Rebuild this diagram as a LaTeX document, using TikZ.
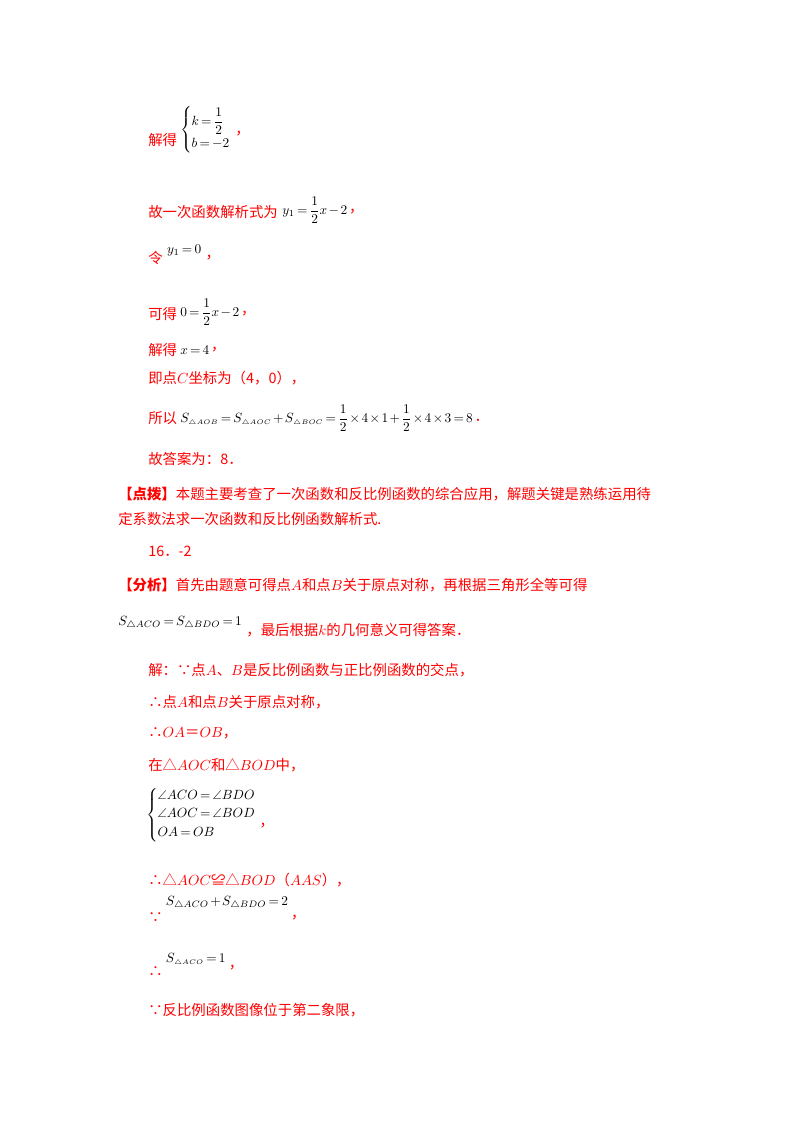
\documentclass[tikz,border=0pt]{standalone}
\usepackage{amsmath,amssymb}
\usepackage{fontspec}
\setmainfont{Noto Sans CJK SC}
\usetikzlibrary{positioning}
\AtBeginDocument{\medmuskip=2mu plus 1mu\thickmuskip=3mu plus 1mu}
\begin{document}
\begin{tikzpicture}[x=0.75pt,y=-0.75pt,
  t/.style={anchor=west,inner sep=0pt,text=red,font=\fontsize{10.8}{13}\selectfont},
  m/.style={anchor=west,inner sep=0pt,text=black,font=\fontsize{9.6}{11}\selectfont}]
\useasboundingbox (0,0) rectangle (800,1132);
\node[t] (a1) at (148,140) {解得};
\node[m,right=2pt of a1.east,yshift=7.5pt] (a2) {$\left\{\begin{array}{@{}l@{}} k=\dfrac12\\[6pt] b=-2\end{array}\right.$};
\node[t,right=3pt of a2.east,yshift=-3pt] (a3) {，};
\node[t] (b1) at (148,212) {故一次函数解析式为};
\node[m,right=3pt of b1.east,yshift=1.5pt] (b2) {$y_1=\dfrac12x-2$};
\node[t,right=1pt of b2.east,yshift=-1.5pt] (b3) {，};
\node[t] (c1) at (148,258) {令};
\node[m,right=3pt of c1.east,yshift=6pt] (c2) {$y_1=0$};
\node[t,right=3pt of c2.east,yshift=-6pt] (c3) {，};
\node[t] (d1) at (148,314) {可得};
\node[m,right=2pt of d1.east,yshift=1.5pt] (d2) {$0=\dfrac12x-2$};
\node[t,right=1pt of d2.east,yshift=-1.5pt] (d3) {，};
\node[t] (e1) at (148,350) {解得};
\node[m,right=2pt of e1.east] (e2) {$x=4$};
\node[t,right=1pt of e2.east] (e3) {，};
\node[t] (f1) at (148,378) {即点$C$坐标为（4，0），};
\node[t] (g1) at (148,418) {所以};
\node[m,right=2pt of g1.east] (g2) {$S_{\scriptscriptstyle\triangle AOB}=S_{\scriptscriptstyle\triangle AOC}+S_{\scriptscriptstyle\triangle BOC}=\dfrac12\times4\times1+\dfrac12\times4\times3=8$};
\node[t,right=1pt of g2.east,yshift=-2pt] (g3) {．};
\node[t] (h1) at (148,459) {故答案为：8．};
\node[t] (i1) at (118,494) {\textbf{【点拨】}本题主要考查了一次函数和反比例函数的综合应用，解题关键是熟练运用待};
\node[t] (i2) at (118,519) {定系数法求一次函数和反比例函数解析式.};
\node[t] (j1) at (148,551) {16．-2};
\node[t] (k1) at (118,585) {\textbf{【分析】}首先由题意可得点$A$和点$B$关于原点对称，再根据三角形全等可得};
\node[m] (k2) at (118,623) {$S_{\triangle ACO}=S_{\triangle BDO}=1$};
\node[t,right=3pt of k2.east,yshift=-5pt] (k3) {，最后根据$k$的几何意义可得答案．};
\node[t] (l1) at (148,670) {解：∵点$A$、$B$是反比例函数与正比例函数的交点，};
\node[t] (l2) at (148,702) {∴点$A$和点$B$关于原点对称，};
\node[t] (l3) at (148,733) {∴$OA$＝$OB$，};
\node[t] (l4) at (148,765) {在△$AOC$和△$BOD$中，};
\node[m] (n1) at (146,815) {$\left\{\begin{array}{@{}l@{}}\angle ACO=\angle BDO\\[3pt] \angle AOC=\angle BOD\\[3pt] OA=OB\end{array}\right.$};
\node[t,right=2pt of n1.east,yshift=-8pt] (n2) {，};
\node[t] (o1) at (148,880) {∴△$AOC$≌△$BOD$（$AAS$），};
\node[t] (p1) at (148,918) {∵};
\node[m,right=2pt of p1.east,yshift=11pt] (p2) {$S_{\triangle ACO}+S_{\triangle BDO}=2$};
\node[t,right=2pt of p2.east,yshift=-11pt] (p3) {，};
\node[t] (q1) at (148,972) {∴};
\node[m,right=2pt of q1.east,yshift=9pt] (q2) {$S_{\scriptscriptstyle\triangle ACO}=1$};
\node[t,right=2pt of q2.east,yshift=-6pt] (q3) {，};
\node[t] (r1) at (148,1010) {∵反比例函数图像位于第二象限，};
\end{tikzpicture}
\end{document}
